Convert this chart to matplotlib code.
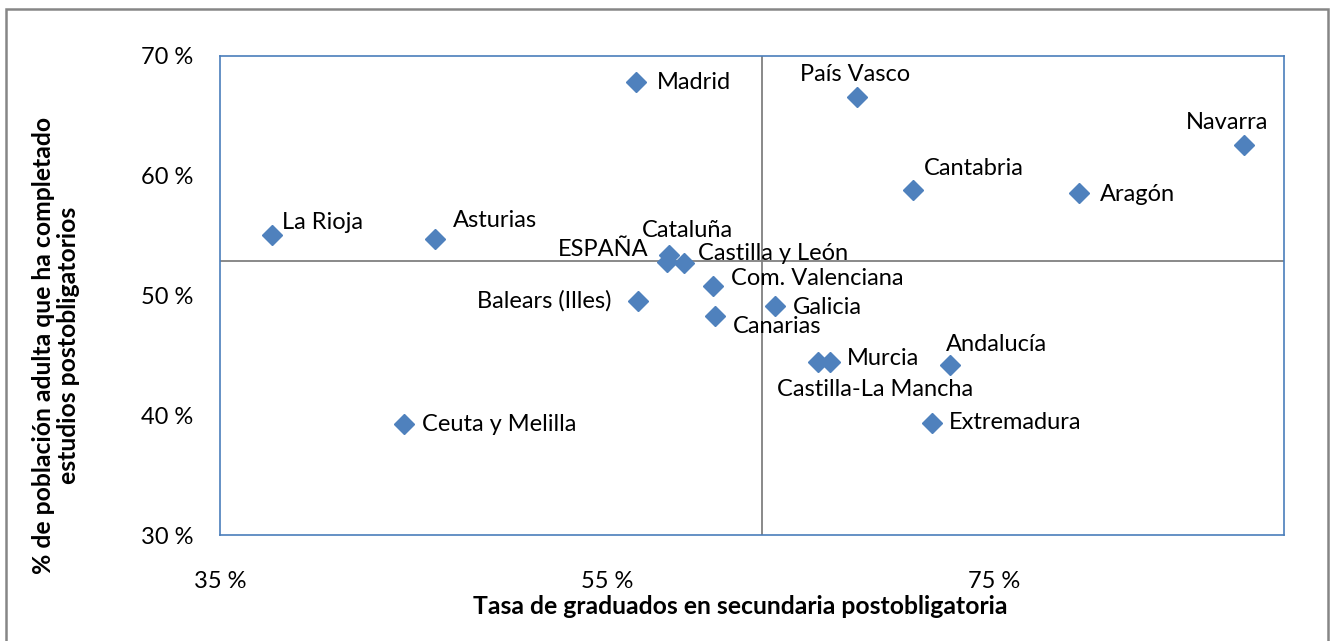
import matplotlib
matplotlib.use("Agg")
import matplotlib.pyplot as plt
from matplotlib.patches import Rectangle

# ---- data ----
regions = ["Madrid", "País Vasco", "Navarra", "Cantabria", "Aragón", "La Rioja",
           "Asturias", "Cataluña", "ESPAÑA", "Castilla y León", "Com. Valenciana",
           "Balears (Illes)", "Galicia", "Canarias", "Castilla-La Mancha", "Murcia",
           "Andalucía", "Extremadura", "Ceuta y Melilla"]
grad_rate = [56.5, 67.9, 87.9, 70.8, 79.4, 37.7,
             46.1, 58.2, 58.1, 59.0, 60.5,
             56.6, 63.7, 60.6, 65.9, 66.5,
             72.7, 71.8, 44.5]
adult_rate = [67.8, 66.6, 62.55, 58.8, 58.6, 55.05,
              54.7, 53.4, 52.8, 52.75, 50.8,
              49.55, 49.15, 48.3, 44.5, 44.5,
              44.25, 39.4, 39.3]
x_ticks = [35, 55, 75]
x_tick_labels = ["35 %", "55 %", "75 %"]
y_ticks = [30, 40, 50, 60, 70]
y_tick_labels = ["30 %", "40 %", "50 %", "60 %", "70 %"]
cross_y = 52.9
cross_x = 63.0

# ---- label placement (pixels offset, alignment) ----
label_style = {
    "Madrid": (21, 0, "left"),
    "País Vasco": (-2, 22, "center"),
    "Navarra": (-17, 23, "center"),
    "Cantabria": (11, 22, "left"),
    "Aragón": (21, -2, "left"),
    "La Rioja": (10, 13, "left"),
    "Asturias": (18, 19, "left"),
    "Cataluña": (18, 24, "center"),
    "ESPAÑA": (-19, 13, "right"),
    "Castilla y León": (14, 9, "left"),
    "Com. Valenciana": (18, 8, "left"),
    "Balears (Illes)": (-26, 0, "right"),
    "Galicia": (18, -2, "left"),
    "Canarias": (17, -10, "left"),
    "Castilla-La Mancha": (57, -28, "center"),
    "Murcia": (17, 3, "left"),
    "Andalucía": (-4, 20, "left"),
    "Extremadura": (17, 0, "left"),
    "Ceuta y Melilla": (18, -1, "left"),
}

plt.rcParams["font.family"] = ["Lato", "DejaVu Sans"]
W, H = 1330, 641
fig = plt.figure(figsize=(W / 100, H / 100), dpi=100)
fig.patch.set_facecolor("white")

# outer chart border
fig.add_artist(Rectangle((6 / W, -0.05), (1328 - 6) / W, 1.05 - 9 / H,
                         transform=fig.transFigure, fill=False,
                         edgecolor="#868686", linewidth=1.8))

left, right, top, bottom = 220, 1284.3, 56, 535.3
ax = fig.add_axes([left / W, (H - bottom) / H, (right - left) / W, (bottom - top) / H])
ax.set_xlim(35, 90)
ax.set_ylim(30, 70)

for s in ax.spines.values():
    s.set_color("#4A7EBB")
    s.set_linewidth(1.2)

ax.axhline(cross_y, color="#808080", lw=1.3, zorder=1)
ax.axvline(cross_x, color="#808080", lw=1.3, zorder=1)

ax.plot(grad_rate, adult_rate, linestyle="none", marker="D", markersize=10,
        color="#4F81BD", markeredgecolor="#4F81BD", zorder=3)

fs = 17
for name, xv, yv in zip(regions, grad_rate, adult_rate):
    dx, dy, ha = label_style[name]
    ax.annotate(name, (xv, yv), xytext=(dx, dy), textcoords="offset pixels",
                ha=ha, va="center", fontsize=fs, color="black", zorder=4)

ax.set_xticks(x_ticks)
ax.set_xticklabels(x_tick_labels, fontsize=fs)
ax.set_yticks(y_ticks)
ax.set_yticklabels(y_tick_labels, fontsize=fs)
ax.tick_params(axis="both", length=0)
ax.tick_params(axis="y", pad=19)
ax.tick_params(axis="x", pad=26)

tfs = 17.8
fig.text(740 / W, 1 - 607 / H, "Tasa de graduados en secundaria postobligatoria",
         ha="center", va="center", fontsize=tfs, fontweight="bold")
fig.text(56 / W, 1 - 345 / H,
         "% de población adulta que ha completado\nestudios postobligatorios",
         ha="center", va="center", rotation=90, fontsize=tfs, fontweight="bold",
         multialignment="center", linespacing=1.15)

fig.savefig("out.png", dpi=100, facecolor="white")
